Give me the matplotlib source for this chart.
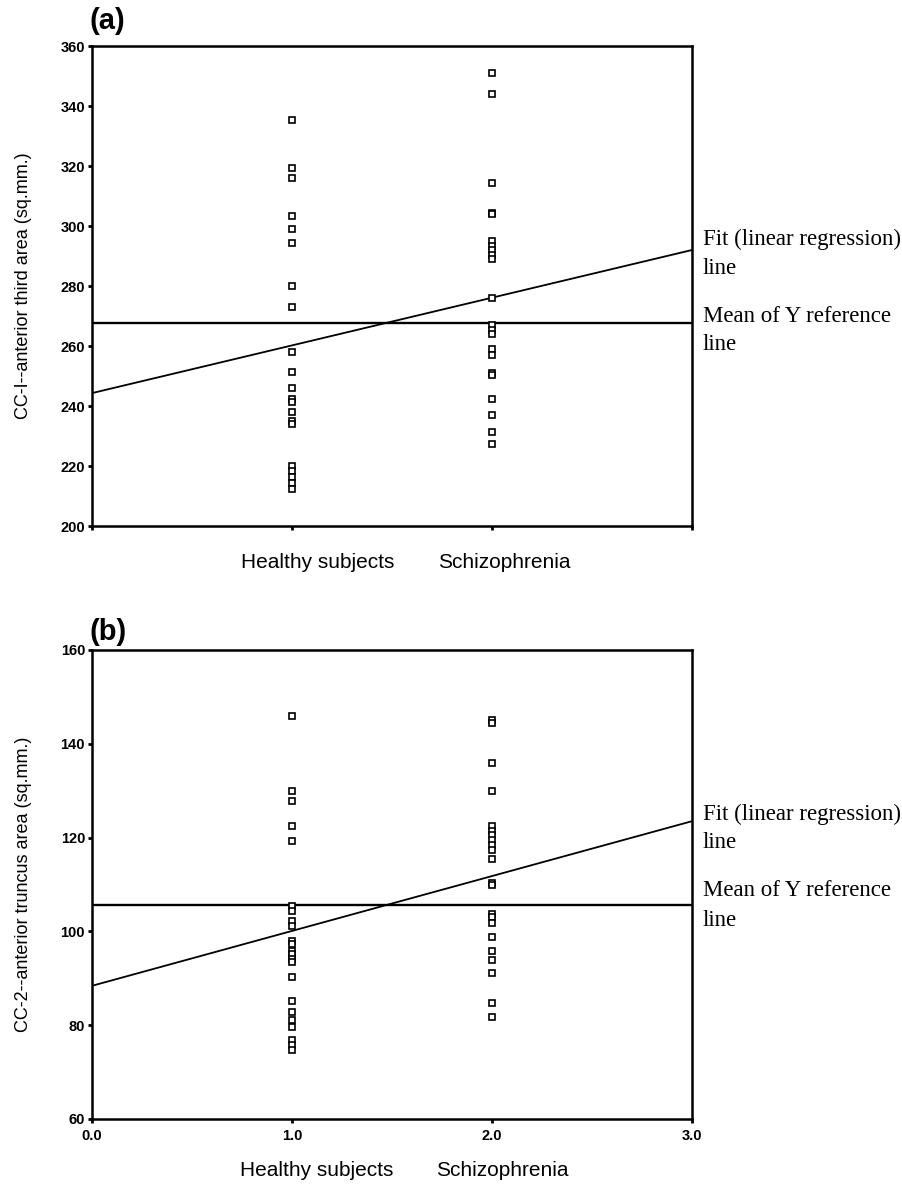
import numpy as np
import matplotlib
matplotlib.use("Agg")
import matplotlib.pyplot as plt

# ---------------- data ----------------
groups = ["Healthy subjects", "Schizophrenia"]
group_x = [1.0, 2.0]

# panel (a): CC-1 anterior third area (sq.mm.)
a_healthy = [335.5, 319.5, 316, 303.5, 299, 294.5, 280, 273, 258, 251.5, 246,
             242.5, 241.5, 238, 235, 234, 220, 218.5, 216.5, 214.5, 212.5]
a_schizo = [351, 344, 314.5, 304.5, 304, 295, 293.5, 292, 290.5, 289, 276, 267,
            265.5, 264, 259, 257, 251, 250.5, 242.5, 237, 231.5, 227.5]
a_fit_intercept, a_fit_slope = 244.3, 15.9
a_mean = 267.6
a_yticks = [200, 220, 240, 260, 280, 300, 320, 340, 360]

# panel (b): CC-2 anterior truncus area (sq.mm.)
b_healthy = [146, 130, 127.7, 122.4, 119.3, 105.4, 104.4, 102.2, 101.2, 97.9,
             97.3, 95.8, 95.1, 94.2, 93.4, 90.3, 85.2, 82.8, 81.1, 79.6, 76.8,
             75.7, 74.8]
b_schizo = [145.1, 144.4, 136, 130, 122.4, 121.4, 120.5, 119.5, 118.4, 117.3,
            115.4, 110.4, 110, 103.7, 103, 101.7, 98.8, 95.8, 93.9, 91.2, 84.8,
            81.8]
b_fit_intercept, b_fit_slope = 88.4, 11.7
b_mean = 105.7
b_yticks = [60, 80, 100, 120, 140, 160]
xticks = [0.0, 1.0, 2.0, 3.0]
xtick_labels = ["0.0", "1.0", "2.0", "3.0"]

fit_label = "Fit (linear regression)"
mean_label = "Mean of Y reference"

# ---------------- figure ----------------
W, H = 903, 1186
fig = plt.figure(figsize=(W / 100, H / 100), dpi=100)

def frac_rect(x0, y0, x1, y1):
    return [x0 / W, 1 - y1 / H, (x1 - x0) / W, (y1 - y0) / H]

ax_a = fig.add_axes(frac_rect(92, 46, 692, 526))
ax_b = fig.add_axes(frac_rect(92, 650, 692, 1119))

sans = "Liberation Sans"
serif = "Liberation Serif"

def draw(ax, healthy, schizo, intercept, slope, mean, ylim, yticks, ylabel,
         show_xlabels, panel, panel_y):
    for xv, vals in zip(group_x, [healthy, schizo]):
        ax.plot([xv] * len(vals), vals, linestyle="none", marker="s",
                markersize=5, markerfacecolor="white", markeredgecolor="black",
                markeredgewidth=1.2, zorder=3)
    xs = np.array([0.0, 3.0])
    ax.plot(xs, intercept + slope * xs, color="black", lw=1.3, zorder=2)
    ax.axhline(mean, color="black", lw=1.7, zorder=2)
    ax.set_xlim(0, 3)
    ax.set_ylim(*ylim)
    ax.set_yticks(yticks)
    ax.set_yticklabels([str(t) for t in yticks], fontfamily=sans,
                       fontsize=10.5, fontweight="bold")
    ax.set_xticks(xticks)
    if show_xlabels:
        ax.set_xticklabels(xtick_labels, fontfamily=sans, fontsize=10.5,
                           fontweight="bold")
    else:
        ax.set_xticklabels([])
    ax.tick_params(axis="both", direction="out", length=3, width=2,
                   color="black", pad=2)
    ax.tick_params(axis="x", pad=4)
    for s in ax.spines.values():
        s.set_linewidth(1.8)
        s.set_color("black")
    ax.set_ylabel(ylabel, fontfamily=sans, fontsize=13)
    ax.yaxis.set_label_coords(-0.1, 0.5)
    ax.text(-0.004, panel_y, panel, transform=ax.transAxes, fontfamily=sans,
            fontsize=21, fontweight="bold", ha="left", va="bottom")

draw(ax_a, a_healthy, a_schizo, a_fit_intercept, a_fit_slope, a_mean,
     (200, 360), a_yticks, "CC-I--anterior third area (sq.mm.)", False, "(a)",
     1.022)
draw(ax_b, b_healthy, b_schizo, b_fit_intercept, b_fit_slope, b_mean,
     (60, 160), b_yticks, "CC-2--anterior truncus area (sq.mm.)", True, "(b)",
     1.008)

# right-hand line legends (pixel rows of each text line)
legend_rows = [(239, 268, 316, 345), (814, 843, 891, 920)]
for (r1, r2, r3, r4) in legend_rows:
    for txt, row in [(fit_label, r1), ("line", r2), (mean_label, r3),
                     ("line", r4)]:
        fig.text(703 / W, 1 - row / H, txt, fontfamily=serif, fontsize=16.5,
                 ha="left", va="center")

# group labels under each panel
label_pos = [((318, 563), (504, 563)), ((317, 1170), (502, 1170))]
for (p_h, p_s) in label_pos:
    for name, (px, py) in zip(groups, [p_h, p_s]):
        fig.text(px / W, 1 - py / H, name, fontfamily=sans, fontsize=15,
                 ha="center", va="center")

fig.savefig("out.png", dpi=100, facecolor="white")
